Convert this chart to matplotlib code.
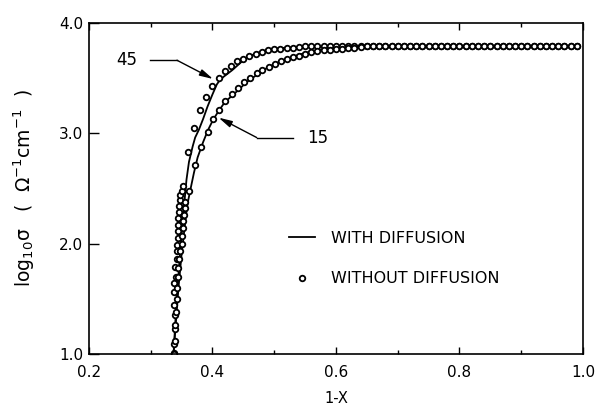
import matplotlib
matplotlib.use("Agg")
import matplotlib.pyplot as plt
from matplotlib.ticker import MultipleLocator

# with diffusion (lines)
line45_x = [0.337, 0.340, 0.344, 0.348, 0.352, 0.355, 0.358, 0.362, 0.368, 0.372,
            0.378, 0.385, 0.392, 0.400, 0.407, 0.412, 0.418, 0.425, 0.432, 0.440,
            0.450, 0.461, 0.475, 0.490, 0.510, 0.540, 0.580, 0.990]
line45_y = [1.00, 1.30, 1.65, 1.95, 2.20, 2.40, 2.58, 2.74, 2.88, 2.96,
            3.03, 3.13, 3.24, 3.35, 3.44, 3.48, 3.51, 3.54, 3.57, 3.61,
            3.66, 3.70, 3.73, 3.755, 3.77, 3.78, 3.785, 3.785]

line15_x = [0.337, 0.341, 0.345, 0.350, 0.354, 0.357, 0.360, 0.364, 0.370, 0.376,
            0.385, 0.393, 0.401, 0.410, 0.420, 0.430, 0.440, 0.455, 0.470, 0.482,
            0.495, 0.510, 0.525, 0.540, 0.560, 0.585, 0.620, 0.990]
line15_y = [1.00, 1.30, 1.60, 1.90, 2.10, 2.25, 2.37, 2.48, 2.64, 2.78,
            2.92, 3.03, 3.12, 3.20, 3.28, 3.33, 3.38, 3.46, 3.52, 3.57,
            3.61, 3.65, 3.68, 3.71, 3.74, 3.765, 3.78, 3.785]

# without diffusion (circles)
circ45_x = [0.337, 0.337, 0.339, 0.339, 0.338, 0.337, 0.338, 0.341, 0.340, 0.342,
            0.343, 0.343, 0.344, 0.344, 0.345, 0.345, 0.346, 0.346, 0.347, 0.348,
            0.350, 0.352,
            0.360, 0.370, 0.380, 0.390, 0.400, 0.410, 0.420, 0.430, 0.440, 0.450,
            0.460, 0.470, 0.480, 0.490, 0.500, 0.510, 0.520, 0.530, 0.540, 0.550,
            0.560, 0.570, 0.580, 0.590, 0.600, 0.610, 0.620, 0.630, 0.640, 0.650,
            0.660, 0.670, 0.680, 0.690, 0.700, 0.710, 0.720, 0.730, 0.740, 0.750,
            0.760, 0.770, 0.780, 0.790, 0.800, 0.810, 0.820, 0.830, 0.840, 0.850,
            0.860, 0.870, 0.880, 0.890, 0.900, 0.910, 0.920, 0.930, 0.940, 0.950,
            0.960, 0.970, 0.980, 0.990]
circ45_y = [1.01, 1.09, 1.23, 1.35, 1.44, 1.56, 1.64, 1.70, 1.79, 1.86,
            1.93, 1.99, 2.05, 2.11, 2.17, 2.23, 2.29, 2.34, 2.39, 2.44,
            2.48, 2.52,
            2.83, 3.05, 3.205, 3.33, 3.43, 3.50, 3.565, 3.61, 3.65, 3.675,
            3.70, 3.72, 3.735, 3.75, 3.76, 3.765, 3.77, 3.775, 3.78, 3.785,
            3.785, 3.785, 3.785, 3.785, 3.785, 3.785, 3.785, 3.785, 3.785, 3.785,
            3.785, 3.785, 3.785, 3.785, 3.785, 3.785, 3.785, 3.785, 3.785, 3.785,
            3.785, 3.785, 3.785, 3.785, 3.785, 3.785, 3.785, 3.785, 3.785, 3.785,
            3.785, 3.785, 3.785, 3.785, 3.785, 3.785, 3.785, 3.785, 3.785, 3.785,
            3.785, 3.785, 3.785, 3.785]

circ15_x = [0.338, 0.339, 0.340, 0.341, 0.342, 0.343, 0.344, 0.345, 0.346, 0.348,
            0.350, 0.351, 0.352, 0.353, 0.354, 0.355, 0.356,
            0.362, 0.372, 0.382, 0.392, 0.401, 0.411, 0.421, 0.432, 0.441, 0.451,
            0.461, 0.472, 0.481, 0.491, 0.501, 0.511, 0.521, 0.530, 0.540, 0.550,
            0.560, 0.570, 0.580, 0.590, 0.600, 0.610, 0.620, 0.630, 0.640, 0.650,
            0.660, 0.670, 0.680, 0.690, 0.700, 0.710, 0.720, 0.730, 0.740, 0.750,
            0.760, 0.770, 0.780, 0.790, 0.800, 0.810, 0.820, 0.830, 0.840, 0.850,
            0.860, 0.870, 0.880, 0.890, 0.900, 0.910, 0.920, 0.930, 0.940, 0.950,
            0.960, 0.970, 0.980, 0.990]
circ15_y = [1.00, 1.12, 1.26, 1.38, 1.50, 1.60, 1.70, 1.78, 1.86, 1.93,
            2.00, 2.07, 2.14, 2.20, 2.26, 2.32, 2.38,
            2.48, 2.71, 2.876, 3.006, 3.127, 3.21, 3.29, 3.353, 3.41, 3.46,
            3.50, 3.54, 3.575, 3.60, 3.63, 3.65, 3.67, 3.69, 3.70, 3.715,
            3.73, 3.74, 3.75, 3.755, 3.76, 3.765, 3.77, 3.775, 3.78, 3.785,
            3.785, 3.785, 3.785, 3.785, 3.785, 3.785, 3.785, 3.785, 3.785, 3.785,
            3.785, 3.785, 3.785, 3.785, 3.785, 3.785, 3.785, 3.785, 3.785, 3.785,
            3.785, 3.785, 3.785, 3.785, 3.785, 3.785, 3.785, 3.785, 3.785, 3.785,
            3.785, 3.785, 3.785, 3.785]

x_ticks = [0.2, 0.4, 0.6, 0.8, 1.0]
x_tick_labels = ["0.2", "0.4", "0.6", "0.8", "1.0"]
y_ticks = [1.0, 2.0, 3.0, 4.0]
y_tick_labels = ["1.0", "2.0", "3.0", "4.0"]

# callout leaders: label position, elbow, arrow tip
label45_xy = (0.2615, 3.66)
leader45_x = [0.299, 0.3425]
leader45_y = [3.66, 3.66]
tip45_xy = (0.401, 3.49)

label15_xy = (0.571, 2.96)
leader15_x = [0.530, 0.4716]
leader15_y = [2.96, 2.96]
tip15_xy = (0.410, 3.14)

fig = plt.figure(figsize=(6.05, 4.05), dpi=100)
ax = fig.add_axes([0.147, 0.126, 0.8166, 0.818])

ax.plot(line45_x, line45_y, color="black", linewidth=1.3, label="WITH DIFFUSION")
ax.plot(line15_x, line15_y, color="black", linewidth=1.3)
ax.plot(circ45_x, circ45_y, linestyle="none", marker="o", markersize=4,
        markerfacecolor="white", markeredgecolor="black", markeredgewidth=1.3,
        label="WITHOUT DIFFUSION")
ax.plot(circ15_x, circ15_y, linestyle="none", marker="o", markersize=4,
        markerfacecolor="white", markeredgecolor="black", markeredgewidth=1.3)

# curve labels
ax.text(label45_xy[0], label45_xy[1], "45", ha="center", va="center", fontsize=12)
ax.plot(leader45_x, leader45_y, color="black", linewidth=1.0)
ax.annotate("", xy=tip45_xy, xytext=(leader45_x[1], leader45_y[1]),
            arrowprops=dict(arrowstyle="-|>,head_length=0.8,head_width=0.2",
                            color="black", linewidth=1.0, shrinkA=0, shrinkB=0))

ax.text(label15_xy[0], label15_xy[1], "15", ha="center", va="center", fontsize=12)
ax.plot(leader15_x, leader15_y, color="black", linewidth=1.0)
ax.annotate("", xy=tip15_xy, xytext=(leader15_x[1], leader15_y[1]),
            arrowprops=dict(arrowstyle="-|>,head_length=0.8,head_width=0.2",
                            color="black", linewidth=1.0, shrinkA=0, shrinkB=0))

ax.set_xlim(0.2, 1.0)
ax.set_ylim(1.0, 4.0)
ax.set_xticks(x_ticks)
ax.set_xticklabels(x_tick_labels)
ax.set_yticks(y_ticks)
ax.set_yticklabels(y_tick_labels)
ax.xaxis.set_minor_locator(MultipleLocator(0.1))

ax.tick_params(axis="x", which="major", direction="in", length=5, width=1,
               top=True, labelsize=11, pad=8)
ax.tick_params(axis="x", which="minor", direction="in", length=3, width=1, top=True)
ax.tick_params(axis="y", which="major", direction="in", length=7, width=1,
               right=False, labelsize=11, pad=4)
for spine in ax.spines.values():
    spine.set_linewidth(1.2)

ax.set_xlabel("1-X", fontsize=10.5, labelpad=8)
ax.set_ylabel("log$_{10}$σ   (  Ω$^{-1}$cm$^{-1}$  )", fontsize=13.5, labelpad=16)

ax.legend(loc="upper left", bbox_to_anchor=(0.405, 0.372), frameon=False,
          fontsize=11.5, handlelength=1.6, handletextpad=1.0, labelspacing=1.6,
          borderpad=0, borderaxespad=0)

fig.savefig("out.png", dpi=100)
